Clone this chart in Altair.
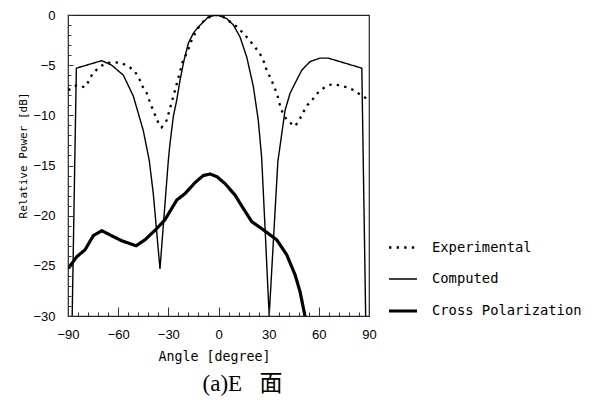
import altair as alt
import pandas as pd

series_names = ["Experimental", "Computed", "Cross Polarization"]
width_order = ["Computed", "Experimental", "Cross Polarization"]

exp_angle = [-89.8, -84.8, -79.8, -77.3, -75.2, -71.8, -67.8, -62.9, -57.9, -53.5,
             -49.9, -47.3, -45.3, -42.9, -41.4, -39.6, -37.6, -35.8, -34.0, -31.0,
             -28.5, -26.0, -23.6, -21.4, -18.6, -16.0, -13.0, -10.0, -7.0, -3.0,
             0.0, 3.0, 6.9, 10.9, 13.9, 16.9, 19.9, 23.2, 26.4, 28.8,
             31.2, 33.2, 35.2, 37.4, 39.8, 42.4, 45.8, 48.8, 51.0, 53.1,
             56.3, 59.7, 63.1, 67.7, 71.7, 76.7, 81.7, 85.6, 89.6]
exp_db = [-7.5, -7.0, -7.2, -6.5, -5.8, -5.3, -4.8, -4.7, -4.8, -5.15,
          -5.65, -6.4, -7.15, -7.8, -8.5, -9.3, -10.1, -10.8, -11.2, -10.5,
          -9.0, -7.5, -6.0, -4.65, -3.65, -2.5, -1.5, -0.8, -0.33, -0.05,
          0.0, -0.2, -0.67, -1.16, -1.66, -2.2, -2.8, -3.5, -4.3, -5.5,
          -6.3, -7.1, -8.0, -9.4, -10.2, -10.7, -11.1, -10.3, -9.6, -9.0,
          -8.4, -7.7, -7.25, -6.9, -7.0, -7.2, -7.55, -8.05, -8.4]

comp_angle = [-87.5, -85.0, -69.8, -63.9, -56.9, -50.9, -45.0, -41.4, -39.0, -35.0,
              -30.0, -29.0, -27.0, -25.0, -23.0, -20.6, -18.0, -15.0, -12.1, -9.1,
              -6.1, -1.0, 4.9, 8.9, 12.9, 16.9, 20.8, 23.8, 25.8, 27.8,
              30.3, 35.5, 39.8, 42.8, 45.8, 49.8, 54.7, 60.7, 65.7, 72.7,
              85.7, 88.0]
comp_db = [-30.0, -5.3, -4.55, -5.0, -6.0, -8.1, -11.5, -14.5, -17.8, -25.3,
           -14.5, -12.8, -10.1, -8.5, -6.5, -4.5, -2.8, -1.8, -1.2, -0.7,
           -0.2, 0.0, -0.35, -1.0, -2.2, -4.2, -7.1, -10.5, -14.2, -21.1,
           -30.0, -14.6, -9.5, -7.8, -6.8, -5.5, -4.65, -4.3, -4.3, -4.65,
           -5.3, -30.0]

cross_angle = [-89.8, -84.8, -79.8, -74.9, -69.8, -63.9, -57.9, -49.3, -43.9, -37.0,
               -32.0, -25.0, -20.0, -14.0, -9.1, -5.05, -1.05, 3.9, 9.9, 14.9,
               19.9, 25.9, 34.8, 40.8, 45.8, 48.8, 51.7]
cross_db = [-25.25, -24.1, -23.4, -22.0, -21.5, -22.0, -22.5, -23.0, -22.4, -21.3,
            -20.4, -18.45, -17.8, -16.7, -16.0, -15.85, -16.1, -16.8, -17.95, -19.3,
            -20.6, -21.3, -22.4, -23.9, -25.9, -27.6, -30.0]

x_tick_values = list(range(-90, 91, 6))   # labels every 30
y_tick_values = list(range(-30, 1))       # labels every 5

rows = []
for name, aa, dd in [("Experimental", exp_angle, exp_db),
                     ("Computed", comp_angle, comp_db),
                     ("Cross Polarization", cross_angle, cross_db)]:
    for i, (a, d) in enumerate(zip(aa, dd)):
        rows.append({"series": name, "angle": a, "db": d, "idx": i})
df = pd.DataFrame(rows)

W, H = 301, 301
x_scale = alt.Scale(domain=[-90, 90], nice=False, zero=False)
y_scale = alt.Scale(domain=[-30, 0], nice=False, zero=False)

legend = alt.Legend(
    title=None, orient="none", legendX=319, legendY=217, values=series_names,
    symbolType="stroke", symbolSize=784, symbolStrokeColor="black",
    labelFont="DejaVu Sans Mono", labelFontSize=13.8, labelColor="black",
    labelOffset=13, rowPadding=9, padding=0,
)

lines = alt.Chart(df).mark_line(color="black", clip=True, strokeCap="butt").encode(
    x=alt.X("angle:Q", scale=x_scale,
            axis=alt.Axis(orient="bottom", values=x_tick_values,
                          tickSize={"condition": {"test": "datum.value % 30 === 0", "value": -9}, "value": -4},
                          tickColor="#333", tickWidth=1, zindex=2,
                          labelExpr="datum.value % 30 === 0 ? datum.label : ''",
                          labelOverlap=False, labelFlush=False, labelBound=False,
                          domain=False, grid=False, labelPadding=21,
                          labelFont="Liberation Sans", labelFontSize=13, labelColor="black",
                          title="Angle [degree]", titleFont="DejaVu Sans Mono",
                          titleFontSize=13.3, titleFontWeight="normal", titleColor="black",
                          titleX=146, titleY=40, titleBaseline="middle", titleAlign="center")),
    y=alt.Y("db:Q", scale=y_scale,
            axis=alt.Axis(orient="left", values=y_tick_values,
                          tickSize={"condition": {"test": "datum.value % 5 === 0", "value": -5}, "value": -3},
                          tickColor="#333", tickWidth=1, zindex=2,
                          labelExpr="datum.value % 5 === 0 ? datum.label : ''",
                          labelOverlap=False, labelFlush=False, labelBound=False,
                          domain=False, grid=False, labelPadding=18,
                          labelFont="Liberation Sans", labelFontSize=13, labelColor="black",
                          title="Relative Power [dB]", titleFont="DejaVu Sans Mono",
                          titleFontSize=11, titleFontWeight="normal", titleColor="black",
                          titleAngle=270, titleX=-45, titleY=140,
                          titleBaseline="middle", titleAlign="center")),
    strokeDash=alt.StrokeDash("series:N",
                              scale=alt.Scale(domain=width_order,
                                              range=[[1, 0], [2.4, 5.2], [1, 0]]),
                              legend=legend),
    strokeWidth=alt.StrokeWidth("series:N",
                                scale=alt.Scale(domain=width_order, range=[1.4, 3.2]),
                                legend=legend),
    order="idx:Q",
)

chart = lines.properties(
    width=W, height=H,
    autosize=alt.AutoSizeParams(type="none"),
    padding={"left": 60, "top": 7, "right": 215, "bottom": 80},
    title=alt.TitleParams("(a)E \u2002面", orient="bottom", anchor="middle",
                          font="Liberation Serif, Noto Sans CJK SC", fontSize=23,
                          fontWeight="normal", color="black", dx=24, offset=11),
).configure_view(stroke="#222", strokeWidth=1.2)

chart.save("out.html", embed_options={"renderer": "svg", "actions": False})
